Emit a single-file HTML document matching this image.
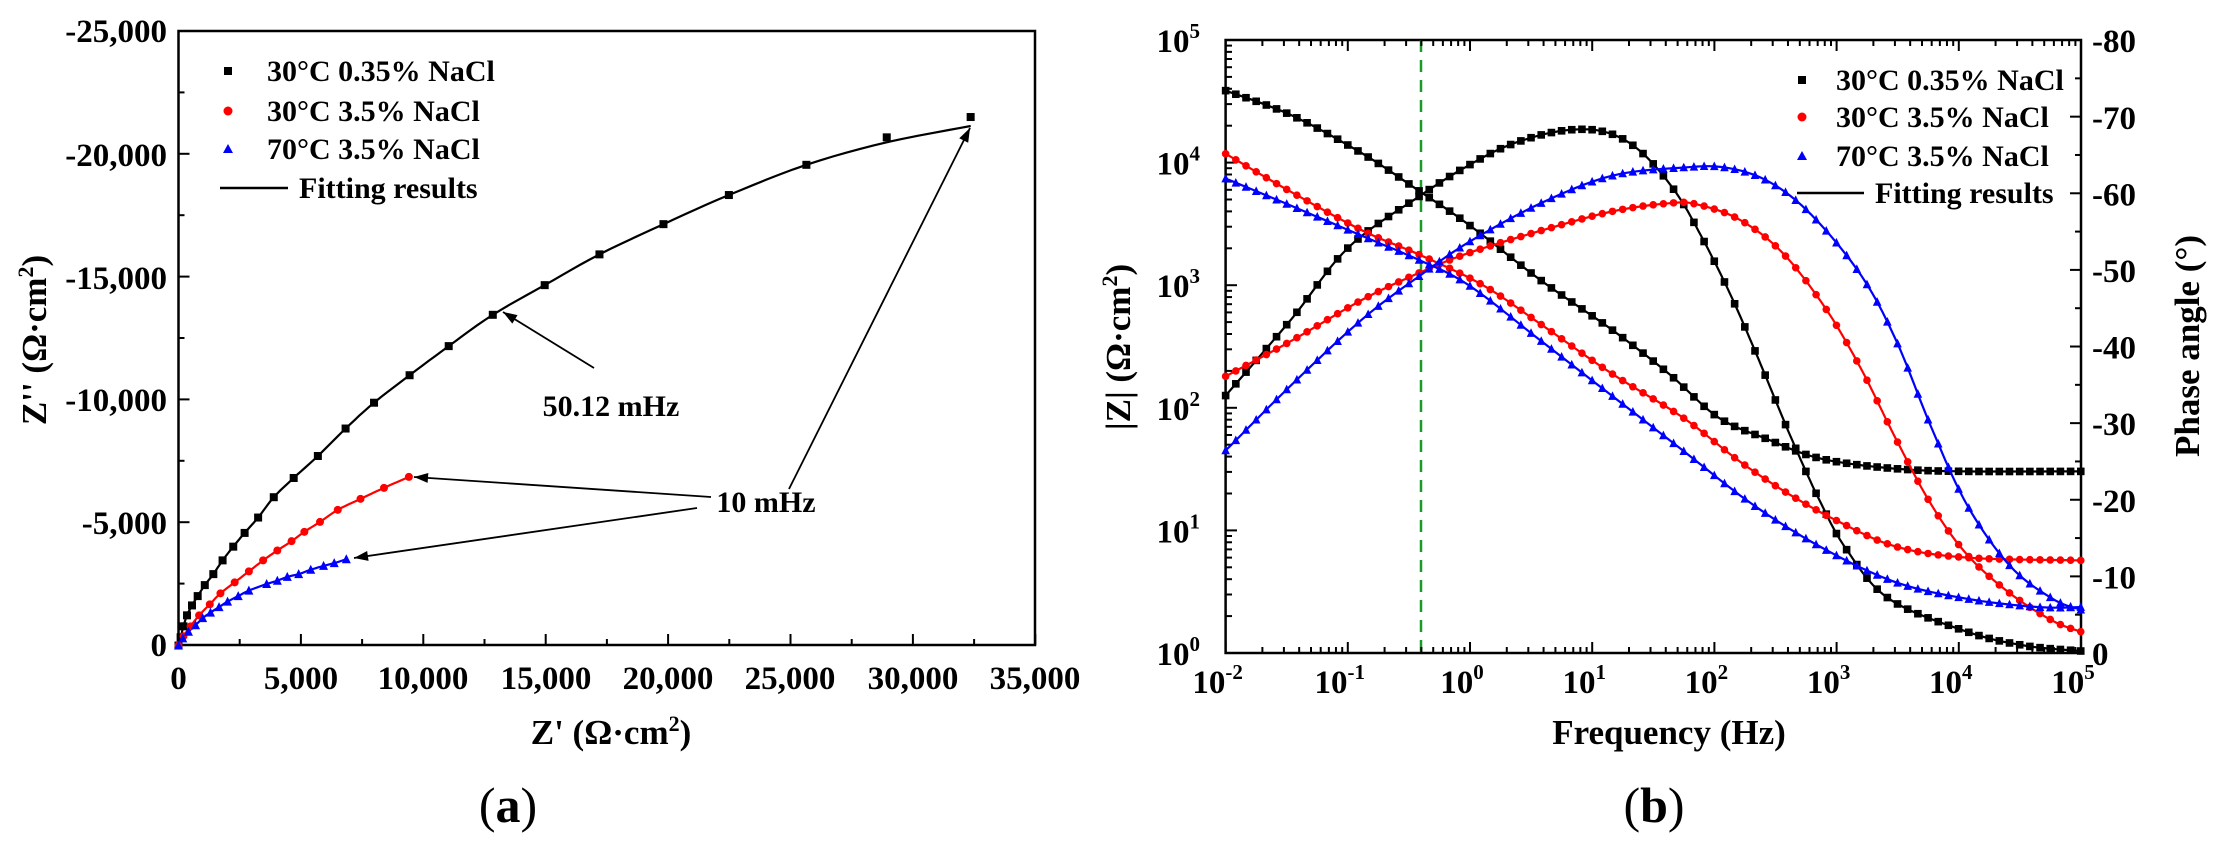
<!DOCTYPE html>
<html><head><meta charset="utf-8">
<style>
html,body{margin:0;padding:0;background:#fff;}
svg{display:block;}
text{font-family:"Liberation Serif",serif;font-weight:bold;fill:#000;}
</style></head>
<body>
<svg id="s" width="2229" height="857" viewBox="0 0 2229 857" xmlns="http://www.w3.org/2000/svg">
<rect x="178.5" y="31" width="856.5" height="614" fill="none" stroke="#000" stroke-width="2.5"/>
<g font-size="33" text-anchor="end">
<text x="167" y="42">-25,000</text>
<text x="167" y="166">-20,000</text>
<text x="167" y="289">-15,000</text>
<text x="167" y="411">-10,000</text>
<text x="167" y="534">-5,000</text>
<text x="167" y="656">0</text>
</g>
<g font-size="33" text-anchor="middle">
<text x="178.5" y="689">0</text>
<text x="301" y="689">5,000</text>
<text x="423" y="689">10,000</text>
<text x="546" y="689">15,000</text>
<text x="668" y="689">20,000</text>
<text x="790" y="689">25,000</text>
<text x="913" y="689">30,000</text>
<text x="1035" y="689">35,000</text>
</g>
<text x="611" y="744" font-size="35" text-anchor="middle">Z' (Ω·cm<tspan font-size="22" dy="-13">2</tspan><tspan dy="13">)</tspan></text>
<text transform="translate(46,340) rotate(-90)" font-size="35" text-anchor="middle">Z'' (Ω·cm<tspan font-size="22" dy="-13">2</tspan><tspan dy="13">)</tspan></text>
<text x="508" y="822" font-size="50" text-anchor="middle" style="font-weight:normal">(<tspan font-weight="bold">a</tspan>)</text>
<rect x="224" y="67" width="8" height="8" fill="#000"/>
<circle cx="228" cy="111" r="4.5" fill="#f00"/>
<polygon points="228,144 233,153 223,153" fill="#00f"/>
<line x1="220" y1="188" x2="288" y2="188" stroke="#000" stroke-width="2.5"/>
<g font-size="30">
<text x="267" y="81">30°C 0.35% NaCl</text>
<text x="267" y="121">30°C 3.5% NaCl</text>
<text x="267" y="159">70°C 3.5% NaCl</text>
<text x="299" y="198">Fitting results</text>
</g>
<text x="611" y="416" font-size="30" text-anchor="middle">50.12 mHz</text>
<text x="766" y="512" font-size="30" text-anchor="middle">10 mHz</text>

<rect x="1225.6" y="40" width="855.4" height="613" fill="none" stroke="#000" stroke-width="2.5"/>
<line x1="1421" y1="40" x2="1421" y2="653" stroke="#1a9a2a" stroke-width="2.5" stroke-dasharray="12,8"/>
<text x="1669" y="744" font-size="35" text-anchor="middle">Frequency (Hz)</text>
<text transform="translate(1130,347) rotate(-90)" font-size="35" text-anchor="middle">|Z| (Ω·cm<tspan font-size="22" dy="-13">2</tspan><tspan dy="13">)</tspan></text>
<text transform="translate(2199,346) rotate(-90)" font-size="35" text-anchor="middle">Phase angle (°)</text>
<text x="1654" y="822" font-size="50" text-anchor="middle" style="font-weight:normal">(<tspan font-weight="bold">b</tspan>)</text>
<rect x="1798" y="76" width="8" height="8" fill="#000"/>
<circle cx="1802" cy="117" r="4.5" fill="#f00"/>
<polygon points="1802,151 1807,160 1797,160" fill="#00f"/>
<line x1="1797" y1="193" x2="1864" y2="193" stroke="#000" stroke-width="2.5"/>
<g font-size="30">
<text x="1836" y="90">30°C 0.35% NaCl</text>
<text x="1836" y="127">30°C 3.5% NaCl</text>
<text x="1836" y="166">70°C 3.5% NaCl</text>
<text x="1875" y="203">Fitting results</text>
</g>
<g id="dyn"></g>
</svg>
<script>
var NS="http://www.w3.org/2000/svg",g=document.getElementById("dyn");
function el(t,a,txt){var e=document.createElementNS(NS,t);for(var k in a)e.setAttribute(k,a[k]);if(txt!=null)e.textContent=txt;g.appendChild(e);return e;}
function line(x1,y1,x2,y2,w){el("line",{x1:x1,y1:y1,x2:x2,y2:y2,stroke:"#000","stroke-width":w||2});}
for(var i=0;i<=10;i++){var y=645-i*61.4;line(178.5,y,178.5+(i%2?6:11),y);}
for(var i=0;i<=14;i++){var x=178.5+i*61.2;line(x,645,x,645-(i%2?6:11));}
for(var d=0;d<=7;d++){var x=1225.6+d*122.2;line(x,653,x,642);line(x,40,x,51);
 if(d<7)for(var m=2;m<10;m++){var xm=x+Math.log10(m)*122.2;line(xm,653,xm,647);line(xm,40,xm,46);}}
for(var d=0;d<=5;d++){var y=653-d*122.6;line(1225.6,y,1237,y);
 if(d<5)for(var m=2;m<10;m++){var ym=y-Math.log10(m)*122.6;line(1225.6,ym,1232,ym);}}
for(var i=0;i<=16;i++){var y=653-i*38.31;line(2081,y,2081-(i%2?6:11),y);}
var sup=["-2","-1","0","1","2","3","4","5"];
for(var d=0;d<=7;d++){var t=el("text",{x:1225.6+d*122.2-8,y:693,"font-size":33,"text-anchor":"middle"},"10");
 var ts=document.createElementNS(NS,"tspan");ts.setAttribute("font-size","21");ts.setAttribute("dy","-14");ts.textContent=sup[d];t.appendChild(ts);}
for(var d=0;d<=5;d++){var t=el("text",{x:1200,y:665-d*122.6,"font-size":33,"text-anchor":"end"},"10");
 var ts=document.createElementNS(NS,"tspan");ts.setAttribute("font-size","21");ts.setAttribute("dy","-14");ts.textContent=""+d;t.appendChild(ts);}
for(var i=0;i<=8;i++){el("text",{x:2092,y:665-i*76.6,"font-size":33},i==0?"0":"-"+(i*10));}
function cr(p,seg){var o=[];for(var i=0;i<p.length-1;i++){var p0=p[Math.max(i-1,0)],p1=p[i],p2=p[i+1],p3=p[Math.min(i+2,p.length-1)];
 for(var s=0;s<seg;s++){var t=s/seg,t2=t*t,t3=t2*t;o.push([0,1].map(function(k){return 0.5*((2*p1[k])+(-p0[k]+p2[k])*t+(2*p0[k]-5*p1[k]+4*p2[k]-p3[k])*t2+(-p0[k]+3*p1[k]-3*p2[k]+p3[k])*t3);}));}}
 o.push(p[p.length-1]);return o;}
function poly(p,c){el("polyline",{points:p.map(function(q){return q[0].toFixed(1)+","+q[1].toFixed(1)}).join(" "),fill:"none",stroke:c,"stroke-width":2.2});}
function mk(x,y,type,c,s){s=s||4.5;if(type=="s")el("rect",{x:x-s,y:y-s,width:2*s,height:2*s,fill:c});
 else if(type=="c")el("circle",{cx:x,cy:y,r:s,fill:c});else el("polygon",{points:x+","+(y-s-1)+" "+(x+s+0.5)+","+(y+s)+" "+(x-s-0.5)+","+(y+s),fill:c});}
function A(p){return p.map(function(q){return [q[0]*0.7111,q[1]*0.5494];});}
var bk=A([[251,1175],[254,1160],[258,1140],[263,1120],[270,1102],[278,1085],[288,1065],[300,1045],[313,1020],[328,995],[344,970],[363,942],[385,905],[413,870],[447,830],[486,780],[526,733],[576,683],[631,630],[693,573],[766,519],[843,463],[933,408],[1025,355],[1134,300],[1247,250],[1365,213]].reverse());
var rd=A([[251,1175],[258,1158],[268,1140],[280,1120],[295,1100],[310,1080],[330,1060],[350,1040],[370,1020],[390,1002],[410,985],[428,968],[450,950],[475,928],[507,908],[540,888],[575,868]]);
var bl=A([[251,1175],[257,1162],[265,1150],[275,1138],[285,1125],[296,1115],[308,1105],[320,1095],[335,1085],[350,1075],[375,1063],[390,1057],[404,1050],[420,1045],[437,1037],[455,1030],[470,1025],[487,1018]]);
var bkf=bk.map(function(q,i){return i==0?[q[0],q[1]+9]:(i==1?[q[0],q[1]+5]:q);});
poly(cr(bkf,6),"#000");poly(cr(rd,6),"#f00");poly(cr(bl,6),"#00f");
bk.forEach(function(q){mk(q[0],q[1],"s","#000",4);});rd.forEach(function(q){mk(q[0],q[1],"c","#f00",4);});bl.forEach(function(q){mk(q[0],q[1],"t","#00f",4);});
function arrow(x1,y1,x2,y2){line(x1,y1,x2,y2,1.8);var a=Math.atan2(y2-y1,x2-x1),L=14,W=5;
 el("polygon",{points:x2+","+y2+" "+(x2-L*Math.cos(a)+W*Math.sin(a))+","+(y2-L*Math.sin(a)-W*Math.cos(a))+" "+(x2-L*Math.cos(a)-W*Math.sin(a))+","+(y2-L*Math.sin(a)+W*Math.cos(a)),fill:"#000"});}
arrow(594,368,503,312);arrow(711,497,414,477);arrow(697,508,354,558);arrow(789,489,970,128);
function B(p){return p.map(function(q){return [1114+q[0]*0.7111,q[1]*0.5494];});}
var S={
bZ:[[157,165],[250,210],[350,280],[432,350],[500,410],[600,510],[700,600],[780,680],[850,760],[920,800],[980,830],[1040,845],[1120,855],[1200,858],[1360,858]],
bP:[[157,720],[250,580],[330,450],[432,355],[500,300],[560,262],[630,238],[690,240],[740,275],[790,350],[830,440],[870,545],[910,665],[950,790],[990,905],[1030,1000],[1090,1090],[1200,1150],[1280,1175],[1360,1185]],
rZ:[[157,280],[250,350],[350,420],[432,465],[520,520],[600,590],[700,680],[800,760],[880,840],[950,900],[1020,950],[1100,995],[1200,1015],[1360,1020]],
rP:[[157,685],[250,620],[350,545],[432,495],[500,460],[600,420],[700,385],[780,370],[820,372],[880,400],[940,460],[1000,560],[1050,670],[1100,800],[1150,920],[1200,1010],[1260,1080],[1320,1130],[1360,1150]],
uZ:[[157,325],[250,375],[350,430],[432,475],[500,520],[600,620],[700,720],[800,820],[900,920],[1000,1000],[1100,1060],[1200,1090],[1300,1105],[1360,1105]],
uP:[[157,820],[250,700],[350,580],[432,500],[500,440],[600,370],[700,320],[800,305],[860,305],[920,330],[980,390],[1050,500],[1100,620],[1150,780],[1200,920],[1260,1030],[1320,1090],[1360,1110]]};
function interp(c,x){if(x<=c[0][0])return c[0][1];for(var i=0;i<c.length-1;i++){if(x>=c[i][0]&&x<=c[i+1][0]){var t=(x-c[i][0])/(c[i+1][0]-c[i][0]);return c[i][1]+t*(c[i+1][1]-c[i][1]);}}return c[c.length-1][1];}
[["bZ","#000","s"],["bP","#000","s"],["rZ","#f00","c"],["rP","#f00","c"],["uZ","#00f","t"],["uP","#00f","t"]].forEach(function(d){
 var c=cr(B(S[d[0]]),10);poly(c,d[1]);
 for(var x=c[0][0];x<=2081;x+=10.18){mk(x,interp(c,x),d[2],d[1],3.8);}});
</script>
</body></html>
